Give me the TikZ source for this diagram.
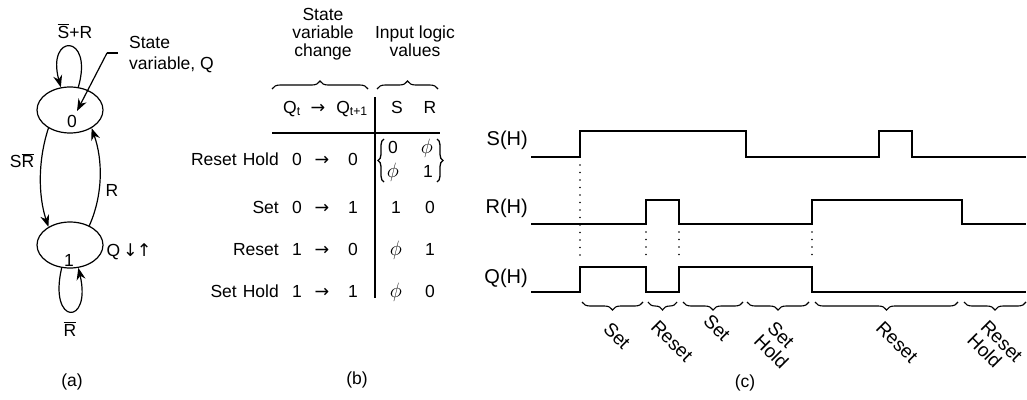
\documentclass[tikz,border=0pt]{standalone}
\usepackage{fontspec}
\setmainfont{Liberation Sans}
\newfontfamily\symfont{DejaVu Sans}
\usetikzlibrary{arrows.meta,positioning,calc,shapes.geometric,decorations.pathreplacing}
\newcommand{\rarr}{{\symfont →}}
\newcommand{\nullv}{{\fontsize{20}{20}\selectfont$\phi$}}

\begin{document}
\begin{tikzpicture}[x=1pt, y=-1pt,
    every node/.style={font=\fontsize{17.5}{18}\selectfont, inner sep=0pt},
    stateell/.style={draw, ellipse, line width=1.2pt, minimum width=66pt, minimum height=46pt},
    arc/.style={line width=1.2pt, -{Stealth[length=12pt, width=9pt]}},
    rule/.style={line width=1.3pt},
    wave/.style={line width=1.5pt},
    siglabel/.style={anchor=east, font=\fontsize{20}{20}\selectfont},
    dotline/.style={line width=1.7pt, line cap=round, dash pattern=on 0pt off 7.5pt},
    upbrace/.style={decorate, decoration={brace, amplitude=8pt}, line width=1.1pt},
    downbrace/.style={decorate, decoration={brace, amplitude=8pt, mirror}, line width=1.1pt},
    vbrace/.style={decorate, decoration={brace, amplitude=6pt}, line width=1.3pt},
    tilt/.style={rotate=-45, align=left, font=\fontsize{19}{19}\selectfont}]
  \useasboundingbox (0,0) rectangle (1027,399);

  % (a) state diagram
  \node[stateell] (s0) at (70,110) {};
  \node[stateell] (s1) at (70,245) {};
  \node (lab0) at (72,121) {0};
  \node (lab1) at (69,260) {1};
  \node (sbr) at (75,31) {$\overline{\hbox{S}}$+R};
  \node (srb) at (22,161) {S$\overline{\hbox{R}}$};
  \node (rlab) at (112,190) {R};
  \node (qud) at (129,252) {Q\,{\symfont ↓\kern-1pt↑}};
  \node (rbar) at (70,329) {$\overline{\hbox{R}}$};
  \node[anchor=west, align=left] (svq) at (129,55) {State\\[3pt]variable, Q};
  \coordinate (qbend) at (107,53);
  \coordinate (qtip) at (77,111);
  \draw[line width=1.2pt] (svq.west) ++(-11,-2) -- (qbend);
  \draw[arc] (qbend) -- (qtip);
  \draw[arc] (s0.70) .. controls (94,33) and (46,33) .. (s0.112);
  \draw[arc] (s0.220) .. controls (38,160) and (38,195) .. (s1.140);
  \draw[arc] (s1.45) .. controls (103,195) and (103,160) .. (s0.-40);
  \draw[arc] (s1.250) .. controls (48,326) and (92,326) .. (s1.290);
  \node (capa) at (72,382) {(a)};

  % (b) table
  \node[align=center, anchor=north] (svc) at (323,8) {State\\variable\\change};
  \node[align=center, anchor=north] (ilv) at (415,26) {Input logic\\values};
  \draw[upbrace] (272,89) -- (368,89);
  \draw[upbrace] (377,89) -- (438,89);
  \node[anchor=base east] (hdr) at (368,113) {Q\textsubscript{t}\hspace{10pt}\rarr\hspace{11pt}Q\textsubscript{t+1}};
  \node[anchor=base] (hs) at (397,113) {S};
  \node[anchor=base] (hr) at (430,113) {R};
  \draw[rule] (272,133) -- (440,133);
  \draw[rule] (375,97) -- (375,298);
  \node[anchor=base east] (row1) at (279,165) {Reset\hspace{6pt}Hold};
  \node[anchor=base] at (297,165) {0};
  \node[anchor=base] at (322,165) {\rarr};
  \node[anchor=base] at (353,165) {0};
  \draw[vbrace] (384,182) -- (384,139);
  \draw[vbrace] (437,139) -- (437,182);
  \node[anchor=base] at (393,153) {0};
  \node[anchor=base] at (427,153) {\nullv};
  \node[anchor=base] at (393,177) {\nullv};
  \node[anchor=base] at (428,177) {1};
  \foreach \name/\qa/\qb/\sv/\rv/\y in {Set/0/1/1/0/213, Reset/1/0/\nullv/1/255, Set\hspace{6pt}Hold/1/1/\nullv/0/297}{
    \node[anchor=base east] at (279,\y) {\name};
    \node[anchor=base] at (297,\y) {\qa};
    \node[anchor=base] at (322,\y) {\rarr};
    \node[anchor=base] at (353,\y) {\qb};
    \node[anchor=base] at (396,\y) {\sv};
    \node[anchor=base] at (430,\y) {\rv};
  }
  \node (capb) at (357,380) {(b)};

  % (c) timing diagram
  \node[siglabel] (sh) at (528,140) {S(H)};
  \node[siglabel] (rh) at (528,208) {R(H)};
  \node[siglabel] (qh) at (528,278) {Q(H)};
  \draw[wave] (531,157) -| (580,131) -| (746,157) -| (879,131) -| (912,157) -- (1026,157);
  \draw[wave] (531,224) -| (646,200) -| (679,224) -| (812,200) -| (962,224) -- (1026,224);
  \draw[wave] (531,292) -| (580,267) -| (646,292) -| (679,267) -| (812,292) -- (1026,292);
  \draw[dotline] (580,165) -- (580,262);
  \foreach \x in {646,679,812}
    \draw[dotline] (\x,232) -- (\x,262);
  \foreach \a/\b in {582/643, 648/677, 683/743, 747/809, 815/958, 964/1026}
    \draw[downbrace] (\a,302) -- (\b,302);
  \node[tilt] (t1) at (617,336) {Set};
  \node[tilt] (t2) at (672,341) {Reset};
  \node[tilt] (t3) at (717,328) {Set};
  \node[tilt] (t4) at (778,345) {Set\\Hold};
  \node[tilt] (t5) at (897,342) {Reset};
  \node[tilt] (t6) at (995,348) {Reset\\Hold};
  \node (capc) at (745,383) {(c)};
\end{tikzpicture}
\end{document}
